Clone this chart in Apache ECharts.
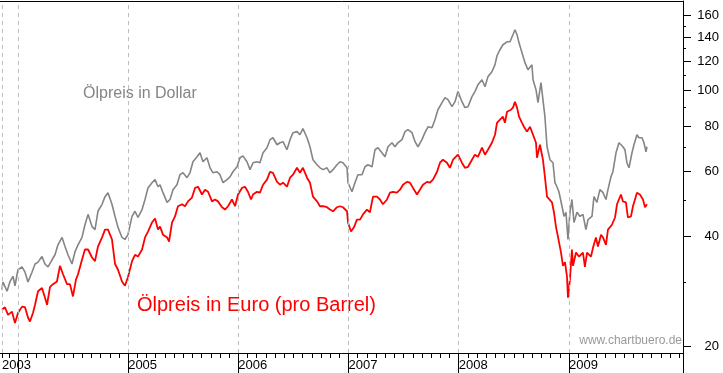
<!DOCTYPE html>
<html><head><meta charset="utf-8">
<script src="https://cdn.jsdelivr.net/npm/echarts@6/dist/echarts.min.js"></script>
<style>html,body{margin:0;padding:0;background:#fff}#c{width:723px;height:373px}</style>
</head><body><div id="c"></div>
<script>
// Time in decimal years, prices in US$ / EUR per barrel
const usdT = [2003.855,2003.864,2003.901,2003.928,2003.955,2003.973,2004.000,2004.037,2004.064,2004.091,2004.127,2004.155,2004.182,2004.218,2004.245,2004.273,2004.309,2004.336,2004.363,2004.400,2004.427,2004.454,2004.490,2004.518,2004.545,2004.581,2004.608,2004.636,2004.672,2004.699,2004.726,2004.763,2004.790,2004.817,2004.853,2004.881,2004.908,2004.944,2004.971,2004.998,2005.035,2005.062,2005.089,2005.126,2005.153,2005.180,2005.216,2005.244,2005.271,2005.289,2005.316,2005.353,2005.380,2005.407,2005.443,2005.470,2005.498,2005.534,2005.561,2005.588,2005.625,2005.652,2005.679,2005.715,2005.743,2005.770,2005.806,2005.833,2005.861,2005.897,2005.924,2005.951,2005.988,2006.015,2006.042,2006.078,2006.106,2006.133,2006.169,2006.196,2006.224,2006.260,2006.287,2006.314,2006.351,2006.378,2006.405,2006.441,2006.469,2006.496,2006.532,2006.559,2006.586,2006.623,2006.650,2006.677,2006.714,2006.741,2006.768,2006.804,2006.831,2006.859,2006.895,2006.922,2006.949,2006.986,2006.995,2007.031,2007.058,2007.085,2007.122,2007.149,2007.176,2007.213,2007.240,2007.267,2007.303,2007.331,2007.358,2007.394,2007.421,2007.448,2007.485,2007.512,2007.539,2007.576,2007.603,2007.630,2007.666,2007.693,2007.721,2007.757,2007.784,2007.811,2007.848,2007.875,2007.902,2007.939,2007.966,2007.993,2008.029,2008.056,2008.084,2008.120,2008.147,2008.174,2008.211,2008.238,2008.265,2008.301,2008.329,2008.347,2008.374,2008.401,2008.438,2008.465,2008.492,2008.510,2008.529,2008.547,2008.574,2008.601,2008.628,2008.664,2008.674,2008.701,2008.719,2008.746,2008.764,2008.782,2008.801,2008.828,2008.855,2008.873,2008.891,2008.909,2008.937,2008.955,2008.973,2008.991,2009.009,2009.027,2009.046,2009.073,2009.100,2009.127,2009.154,2009.173,2009.209,2009.227,2009.254,2009.281,2009.309,2009.336,2009.354,2009.381,2009.399,2009.427,2009.454,2009.490,2009.508,2009.526,2009.545,2009.572,2009.590,2009.617,2009.635,2009.663,2009.681,2009.699,2009.708];
const usdV = [28.6,30.0,28.3,30.1,31.1,29.3,32.4,33.0,31.9,30.0,31.9,33.6,34.0,35.2,33.6,33.0,34.5,35.6,37.9,39.7,37.5,35.6,33.6,36.3,37.9,39.7,43.0,45.9,42.5,41.7,46.8,48.9,51.3,52.6,48.9,45.3,42.3,39.7,39.2,40.4,45.3,46.8,45.0,47.3,50.4,54.2,56.0,57.1,54.6,55.3,52.6,49.5,50.4,53.6,55.3,58.9,59.6,57.8,59.6,63.9,65.9,67.6,63.9,65.5,61.5,59.6,60.0,58.9,56.0,57.1,58.1,60.0,61.9,65.5,66.3,63.9,60.8,63.5,63.9,63.5,67.6,69.8,73.4,74.3,71.1,72.0,72.5,68.9,73.4,76.7,77.2,75.7,78.7,74.3,70.2,64.7,62.7,61.5,60.8,61.5,59.6,60.8,62.7,63.9,63.5,61.5,56.0,52.9,56.0,58.9,58.9,61.9,62.7,61.9,68.9,69.8,67.6,65.9,70.2,72.0,70.2,72.0,73.4,77.2,78.2,76.7,72.5,70.2,73.4,76.7,79.6,79.1,83.2,88.6,92.6,95.6,94.4,90.3,93.2,99.3,93.2,89.8,90.3,96.2,99.3,103.7,107.0,102.4,109.1,112.5,117.6,124.4,129.2,133.3,135.8,135.8,142.0,146.5,142.0,134.9,126.8,119.1,113.9,117.6,107.0,100.5,92.6,105.0,94.4,84.8,70.2,64.7,63.5,56.0,54.6,52.9,48.3,45.3,46.5,39.2,46.5,50.4,43.6,46.5,45.3,45.9,41.7,44.4,45.3,51.3,49.5,53.6,52.6,50.4,53.6,58.1,60.0,67.6,72.0,70.2,68.9,63.5,61.5,67.6,71.1,75.7,74.3,74.3,72.0,68.0,70.2];
const eurT = [2003.855,2003.882,2003.910,2003.946,2003.973,2004.000,2004.037,2004.064,2004.091,2004.109,2004.136,2004.155,2004.182,2004.218,2004.245,2004.264,2004.291,2004.318,2004.354,2004.381,2004.409,2004.445,2004.472,2004.499,2004.527,2004.545,2004.581,2004.608,2004.636,2004.672,2004.699,2004.726,2004.763,2004.790,2004.817,2004.853,2004.881,2004.908,2004.944,2004.971,2004.998,2005.035,2005.062,2005.089,2005.126,2005.153,2005.180,2005.216,2005.244,2005.271,2005.289,2005.316,2005.353,2005.371,2005.398,2005.425,2005.452,2005.489,2005.516,2005.543,2005.579,2005.607,2005.634,2005.670,2005.697,2005.725,2005.761,2005.788,2005.815,2005.852,2005.879,2005.906,2005.942,2005.970,2005.997,2006.033,2006.060,2006.087,2006.115,2006.133,2006.169,2006.196,2006.224,2006.260,2006.287,2006.314,2006.351,2006.378,2006.405,2006.441,2006.469,2006.496,2006.532,2006.559,2006.586,2006.623,2006.650,2006.677,2006.714,2006.741,2006.768,2006.804,2006.831,2006.859,2006.895,2006.922,2006.949,2006.986,2006.995,2007.022,2007.049,2007.076,2007.104,2007.131,2007.167,2007.194,2007.222,2007.258,2007.285,2007.312,2007.349,2007.376,2007.403,2007.439,2007.467,2007.494,2007.530,2007.557,2007.585,2007.621,2007.648,2007.675,2007.712,2007.739,2007.766,2007.803,2007.830,2007.857,2007.893,2007.920,2007.948,2007.993,2008.029,2008.056,2008.084,2008.120,2008.147,2008.174,2008.211,2008.238,2008.265,2008.301,2008.329,2008.347,2008.374,2008.401,2008.419,2008.438,2008.474,2008.492,2008.510,2008.529,2008.547,2008.574,2008.592,2008.619,2008.647,2008.674,2008.701,2008.710,2008.737,2008.764,2008.782,2008.801,2008.819,2008.846,2008.864,2008.882,2008.900,2008.928,2008.946,2008.964,2008.982,2008.991,2009.009,2009.027,2009.037,2009.064,2009.091,2009.127,2009.145,2009.164,2009.200,2009.218,2009.245,2009.263,2009.291,2009.309,2009.336,2009.354,2009.390,2009.418,2009.436,2009.472,2009.490,2009.517,2009.535,2009.563,2009.581,2009.617,2009.644,2009.672,2009.690,2009.708];
const eurV = [25.2,25.6,24.4,24.9,23.2,24.7,25.7,25.6,24.0,23.4,24.7,26.0,28.3,28.9,27.2,26.0,29.1,29.6,30.1,33.2,31.5,29.6,29.6,27.4,30.5,31.5,34.5,36.8,36.8,35.0,34.2,37.5,39.7,41.7,41.7,39.2,33.6,32.4,30.1,29.3,30.9,34.2,35.6,35.2,36.8,39.7,41.2,43.6,44.7,41.7,42.5,40.4,39.7,38.7,43.6,45.3,48.3,48.9,48.3,49.8,51.0,54.2,54.6,52.0,53.6,52.9,49.8,50.4,49.8,48.0,47.3,48.3,50.4,48.3,52.0,54.2,54.6,52.9,50.4,52.0,52.9,52.6,55.3,57.1,60.0,59.6,56.3,55.3,56.0,54.6,57.8,58.9,61.5,59.6,61.5,57.8,56.0,51.3,49.8,48.3,48.3,48.0,47.3,46.8,48.0,48.3,48.0,46.8,43.6,41.2,42.3,44.4,44.4,45.9,47.3,46.5,51.3,51.3,50.4,48.9,50.4,52.6,52.9,52.6,53.6,55.3,56.3,56.0,54.2,52.0,53.6,55.3,56.3,56.0,57.1,60.0,63.5,64.7,63.5,61.5,64.7,66.8,63.5,61.5,61.9,64.7,66.8,65.9,69.8,66.8,68.9,72.0,75.7,81.6,83.2,84.8,81.6,87.5,88.6,89.8,93.2,89.8,84.8,81.6,79.6,77.2,79.6,75.7,72.0,65.5,71.1,64.7,58.1,51.3,51.3,49.5,46.5,42.5,39.9,36.1,33.2,34.0,31.1,27.2,30.5,36.8,33.2,36.1,35.2,36.1,33.0,36.1,35.2,37.2,39.7,37.5,40.4,39.7,37.9,41.7,43.0,45.0,48.9,52.0,49.8,49.5,45.0,45.3,48.3,52.6,52.0,50.4,48.0,48.9];

const yearLabelPos = [2003.855, 2005, 2006, 2007, 2008, 2009];
const yearLabels = ['2003', '2005', '2006', '2007', '2008', '2009'];
const yearTickPos = [2004, 2005, 2006, 2007, 2008, 2009];
const gridLinePos = [2003.855, 2004, 2005, 2006, 2007, 2008, 2009];
const priceLabels = [20, 40, 60, 80, 100, 120, 140, 160];
const priceMinor = [30, 50, 70, 90, 110, 130, 150];

const X_MIN = 2003.837, X_MAX = 2010.035;
const Y_MIN = 19.2, Y_MAX = 175.5;
const monthTicks = [2003.855];
for (let k = 11; k <= 84; k++) monthTicks.push(2003 + k / 12);
const majorTicks = yearTickPos.concat([X_MAX]);

const FONT = '"Liberation Sans", Arial, sans-serif';
const chart = echarts.init(document.getElementById('c'), null, {renderer: 'canvas'});
const lnMin = Math.log(Y_MIN), lnMax = Math.log(Y_MAX);

chart.setOption({
  animation: false,
  backgroundColor: '#fff',
  grid: {left: 0, right: 40, top: 1, bottom: 20, containLabel: false, outerBoundsMode: 'none'},
  xAxis: [
    {type: 'value', min: X_MIN, max: X_MAX, position: 'bottom',
     axisLine: {show: true, lineStyle: {color: '#000', width: 1}},
     axisTick: {show: true, customValues: monthTicks, length: 5, lineStyle: {color: '#000'}},
     axisLabel: {show: true, customValues: yearLabelPos, align: 'left', margin: 6,
       fontSize: 13, fontFamily: FONT, color: '#000',
       formatter: v => { const i = yearLabelPos.findIndex(p => Math.abs(p - v) < 1e-6); return i >= 0 ? yearLabels[i] : ''; }},
     splitLine: {show: false}},
    {type: 'value', min: X_MIN, max: X_MAX, position: 'bottom', offset: 0,
     axisLine: {show: false},
     axisTick: {show: true, customValues: majorTicks, length: 20, lineStyle: {color: '#000'}},
     axisLabel: {show: false}, splitLine: {show: false}},
    {type: 'value', min: X_MIN, max: X_MAX, position: 'top',
     axisLine: {show: true, lineStyle: {color: '#000', width: 1}},
     axisTick: {show: false}, axisLabel: {show: false}, splitLine: {show: false}}
  ],
  yAxis: [
    {type: 'log', logBase: 10, min: Y_MIN, max: Y_MAX, position: 'right',
     axisLine: {show: true, lineStyle: {color: '#000', width: 1}},
     axisTick: {show: false}, axisLabel: {show: false}, splitLine: {show: false}},
    {type: 'value', min: lnMin, max: lnMax, position: 'right', offset: 0,
     axisLine: {show: false},
     axisTick: {show: true, customValues: priceLabels.map(Math.log), length: 8, lineStyle: {color: '#000'}},
     axisLabel: {show: true, customValues: priceLabels.map(Math.log), align: 'right', margin: 36,
       fontSize: 13, fontFamily: FONT, color: '#000',
       formatter: v => String(Math.round(Math.exp(v)))},
     splitLine: {show: false}},
    {type: 'value', min: lnMin, max: lnMax, position: 'right', offset: 0,
     axisLine: {show: false},
     axisTick: {show: true, customValues: priceMinor.map(Math.log), length: 3, lineStyle: {color: '#000'}},
     axisLabel: {show: false}, splitLine: {show: false}}
  ],
  series: [
    {type: 'line', name: 'grid', data: [], xAxisIndex: 0, yAxisIndex: 0, z: 1, silent: true,
     markLine: {silent: true, symbol: ['none', 'none'], label: {show: false},
       lineStyle: {color: '#bdbdbd', type: [4, 4], width: 1},
       data: gridLinePos.map(v => ({xAxis: v}))}},
    {type: 'line', name: 'Ölpreis in Dollar', xAxisIndex: 0, yAxisIndex: 0, z: 3,
     showSymbol: false, symbol: 'none', lineStyle: {color: '#858585', width: 1.6},
     data: usdT.map((t, i) => [t, usdV[i]])},
    {type: 'line', name: 'Ölpreis in Euro', xAxisIndex: 0, yAxisIndex: 0, z: 4,
     showSymbol: false, symbol: 'none', lineStyle: {color: '#ff0000', width: 1.8},
     data: eurT.map((t, i) => [t, eurV[i]])}
  ],
  graphic: [
    {type: 'text', left: 83, top: 86, silent: true,
     style: {text: 'Ölpreis in Dollar', font: '16px ' + FONT, fill: '#858585'}},
    {type: 'text', left: 137, top: 295, silent: true,
     style: {text: 'Ölpreis in Euro (pro Barrel)', font: '20px ' + FONT, fill: '#ff0000'}},
    {type: 'text', right: 41, top: 335, silent: true,
     style: {text: 'www.chartbuero.de', font: '12px ' + FONT, fill: '#9a9a9a'}}
  ]
});
</script></body></html>
